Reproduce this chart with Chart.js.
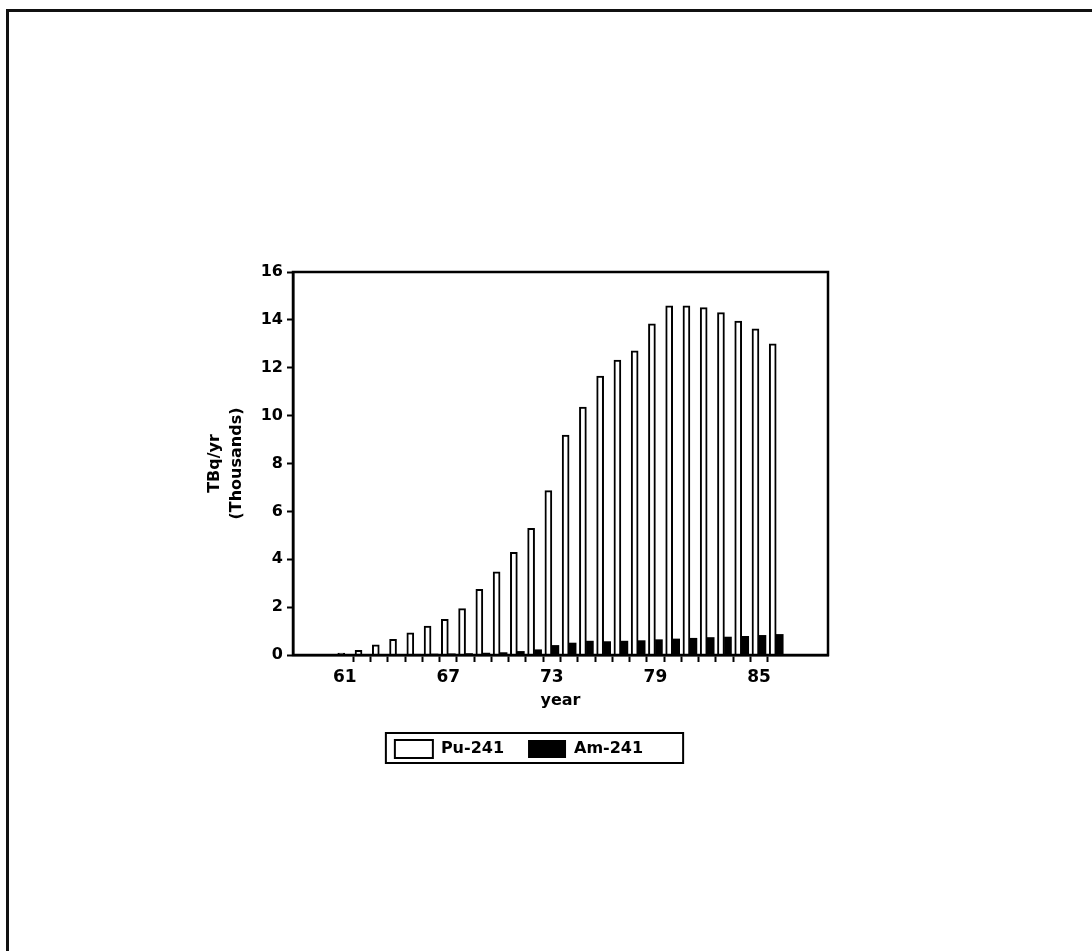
<!DOCTYPE html>
<html lang="en">
<head>
  <meta charset="UTF-8">
  <title>Pu-241 and Am-241 releases</title>
  <script src="https://cdn.jsdelivr.net/npm/chart.js"></script>
  <style>
    body {
      margin: 0;
      background: #fff;
      overflow: hidden;
    }

    /* scanned page edge, top and left only */
    .page-frame {
      position: absolute;
      left: 6px;
      top: 9px;
      width: 1200px;
      height: 1100px;
      border-left: 3px solid #111;
      border-top: 3px solid #111;
      pointer-events: none;
    }

    canvas {
      position: absolute;
      left: 0;
      top: 0;
    }
  </style>
</head>
<body>

<div class="page-frame"></div>
<canvas id="releaseChart" width="1092" height="951"></canvas>

<script>
  // Values (TBq/yr, thousands)
  const years = [61, 62, 63, 64, 65, 66, 67, 68, 69, 70, 71, 72, 73,
                 74, 75, 76, 77, 78, 79, 80, 81, 82, 83, 84, 85, 86];
  const pu241 = [0.08, 0.2, 0.42, 0.65, 0.93, 1.21, 1.49, 1.94, 2.74, 3.47, 4.29, 5.29, 6.87,
                 9.19, 10.36, 11.65, 12.32, 12.71, 13.83, 14.59, 14.59, 14.51, 14.3, 13.95, 13.63, 13.0];
  const am241 = [0, 0, 0.01, 0.02, 0.03, 0.04, 0.05, 0.06, 0.08, 0.1, 0.15, 0.22, 0.4,
                 0.5, 0.58, 0.56, 0.58, 0.6, 0.64, 0.67, 0.7, 0.73, 0.75, 0.78, 0.82, 0.86];
  const yearTickLabels = [61, 67, 73, 79, 85];
  const seriesNames = ['Pu-241', 'Am-241'];

  Chart.defaults.font.family = "'DejaVu Sans', sans-serif";
  Chart.defaults.font.weight = 'bold';
  Chart.defaults.color = '#000';

  // tick marks sit between the years, labels on the years
  const xTicks = [];
  years.slice(0, -1).forEach(y => {
    if (yearTickLabels.includes(y)) xTicks.push(y);
    xTicks.push(y + 0.5);
  });

  // box round the plot area
  const frame = {
    id: 'frame',
    afterDraw(chart) {
      const a = chart.chartArea;
      const ctx = chart.ctx;
      ctx.save();
      ctx.strokeStyle = '#000';
      ctx.lineWidth = 2.5;
      ctx.strokeRect(a.left, a.top, a.right - a.left, a.bottom - a.top);
      ctx.restore();
    }
  };

  // nudge the legend and draw a box round it
  const legendBox = {
    id: 'legendBox',
    afterLayout(chart) {
      const lg = chart.legend;
      lg.left += 5;
      lg.right += 5;
      lg.top += 6;
      lg.bottom += 6;
    },
    afterDraw(chart) {
      const hb = chart.legend.legendHitBoxes;
      if (!hb || !hb.length) return;
      const minX = Math.min(...hb.map(h => h.left));
      const maxX = Math.max(...hb.map(h => h.left + h.width));
      const minY = Math.min(...hb.map(h => h.top));
      const maxY = Math.max(...hb.map(h => h.top + h.height));
      const ctx = chart.ctx;
      ctx.save();
      ctx.strokeStyle = '#000';
      ctx.lineWidth = 2;
      ctx.strokeRect(minX - 9, minY - 7, maxX - minX + 9 + 40, maxY - minY + 12);
      ctx.restore();
    }
  };

  const ctx = document.getElementById('releaseChart').getContext('2d');
  new Chart(ctx, {
    type: 'bar',
    data: {
      datasets: [{
        label: seriesNames[0],
        data: years.map((y, i) => ({ x: y, y: pu241[i] })),
        backgroundColor: '#fff',
        borderColor: '#000',
        borderWidth: 2,
        barThickness: 7
      }, {
        label: seriesNames[1],
        data: years.map((y, i) => ({ x: y, y: am241[i] })),
        backgroundColor: '#000',
        borderColor: '#000',
        borderWidth: 0,
        barThickness: 7
      }]
    },
    options: {
      responsive: false,
      animation: false,
      layout: {
        padding: { left: 200, right: 264, top: 272, bottom: 189 }
      },
      plugins: {
        tooltip: { enabled: false },
        legend: {
          position: 'bottom',
          labels: {
            boxWidth: 38,
            boxHeight: 18,
            padding: 24,
            font: { size: 16, weight: 'bold' },
            color: '#000'
          }
        }
      },
      scales: {
        x: {
          type: 'linear',
          min: 58,
          max: 89,
          offset: false,
          afterBuildTicks: scale => {
            scale.ticks = xTicks.map(v => ({ value: v }));
          },
          afterFit: scale => { scale.height = 55; },
          grid: {
            offset: false,
            drawOnChartArea: false,
            tickLength: 7,
            tickWidth: 2,
            tickColor: c => (c.tick && Number.isInteger(c.tick.value)) ? 'rgba(0,0,0,0)' : '#000'
          },
          border: { color: '#000', width: 2.5 },
          ticks: {
            autoSkip: false,
            maxRotation: 0,
            padding: 5,
            font: { size: 17, weight: 'bold' },
            callback: v => yearTickLabels.includes(v) ? String(v) : ''
          },
          title: {
            display: true,
            text: 'year',
            padding: { top: 2, bottom: 0 },
            font: { size: 16, weight: 'bold' }
          }
        },
        y: {
          min: 0,
          max: 16,
          afterFit: scale => { scale.width = 93; },
          grid: {
            drawOnChartArea: false,
            tickLength: 6,
            tickWidth: 2,
            tickColor: '#000'
          },
          border: { color: '#000', width: 2.5 },
          ticks: {
            stepSize: 2,
            padding: 4,
            font: { size: 16, weight: 'bold' }
          },
          title: {
            display: true,
            text: ['TBq/yr', '(Thousands)'],
            padding: { top: 4, bottom: 0 },
            font: { size: 16, weight: 'bold', lineHeight: 1.375 }
          }
        }
      }
    },
    plugins: [frame, legendBox]
  });
</script>

</body>
</html>
